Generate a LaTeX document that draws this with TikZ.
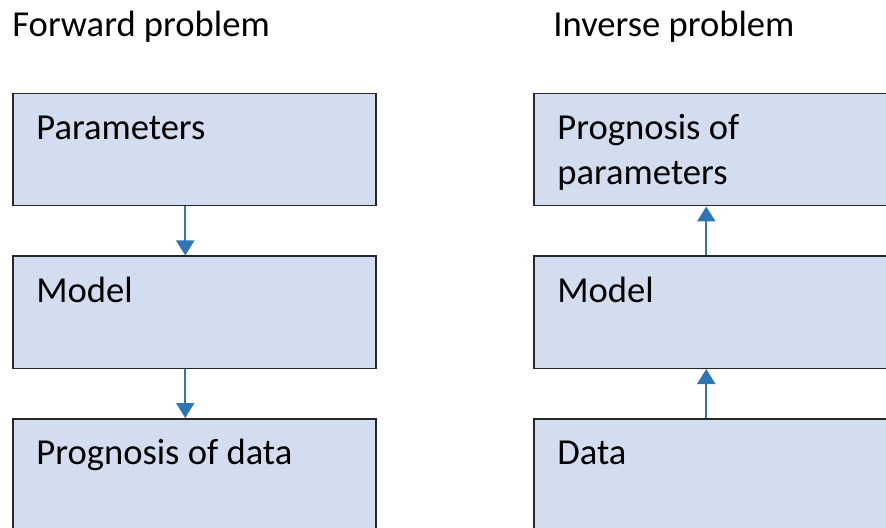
\documentclass[tikz,border=0pt]{standalone}
\usepackage{fontspec}
\setmainfont{Carlito}
\usetikzlibrary{positioning,arrows.meta}

\definecolor{stagefill}{HTML}{D2DEEF}
\definecolor{flowblue}{HTML}{2E75B6}

\tikzset{
  stage/.style={draw=black!85, line width=0.75pt, fill=stagefill,
    minimum width=181.5pt, minimum height=56pt, inner sep=0pt},
  stagetext/.style={anchor=base west, inner sep=0pt,
    font=\fontsize{18.3}{22.5}\selectfont},
  flow/.style={draw=flowblue, line width=1pt,
    -{Triangle[width=9pt,length=7.5pt]}}
}

\begin{document}
\begin{tikzpicture}[x=0.5pt,y=-0.5pt]
\path[use as bounding box, clip] (0,0) rectangle (886,528);

% forward problem
\node[stagetext] (fwdtitle) at (12,36.5) {Forward problem};
\node[stage, anchor=north west] (params) at (12,93) {};
\node[stage, below=24.5pt of params] (fwdmodel) {};
\node[stage, below=24.5pt of fwdmodel] (dataprog) {};
\node[stagetext] (paramstext) at ([shift={(12pt,-23.3pt)}]params.north west) {Parameters};
\node[stagetext] (fwdmodeltext) at ([shift={(12pt,-23.3pt)}]fwdmodel.north west) {Model};
\node[stagetext] (dataprogtext) at ([shift={(12pt,-23.3pt)}]dataprog.north west) {Prognosis of data};
\draw[flow] ([xshift=-4.5pt]params.south) -- ([xshift=-4.5pt]fwdmodel.north);
\draw[flow] ([xshift=-4.5pt]fwdmodel.south) -- ([xshift=-4.5pt]dataprog.north);

% inverse problem
\node[stagetext] (invtitle) at (553,36.5) {Inverse problem};
\node[stage, anchor=north west] (paramprog) at (533,93) {};
\node[stage, below=24.5pt of paramprog] (invmodel) {};
\node[stage, below=24.5pt of invmodel] (data) {};
\node[stagetext] (paramprogtext) at ([shift={(12pt,-23.3pt)}]paramprog.north west) {%
  \begin{tabular}[t]{@{}l@{}}
    Prognosis of \\
    parameters \\
  \end{tabular}};
\node[stagetext] (invmodeltext) at ([shift={(12pt,-23.3pt)}]invmodel.north west) {Model};
\node[stagetext] (datatext) at ([shift={(12pt,-23.3pt)}]data.north west) {Data};
\draw[flow] ([xshift=-4.5pt]data.north) -- ([xshift=-4.5pt]invmodel.south);
\draw[flow] ([xshift=-4.5pt]invmodel.north) -- ([xshift=-4.5pt]paramprog.south);
\end{tikzpicture}
\end{document}
